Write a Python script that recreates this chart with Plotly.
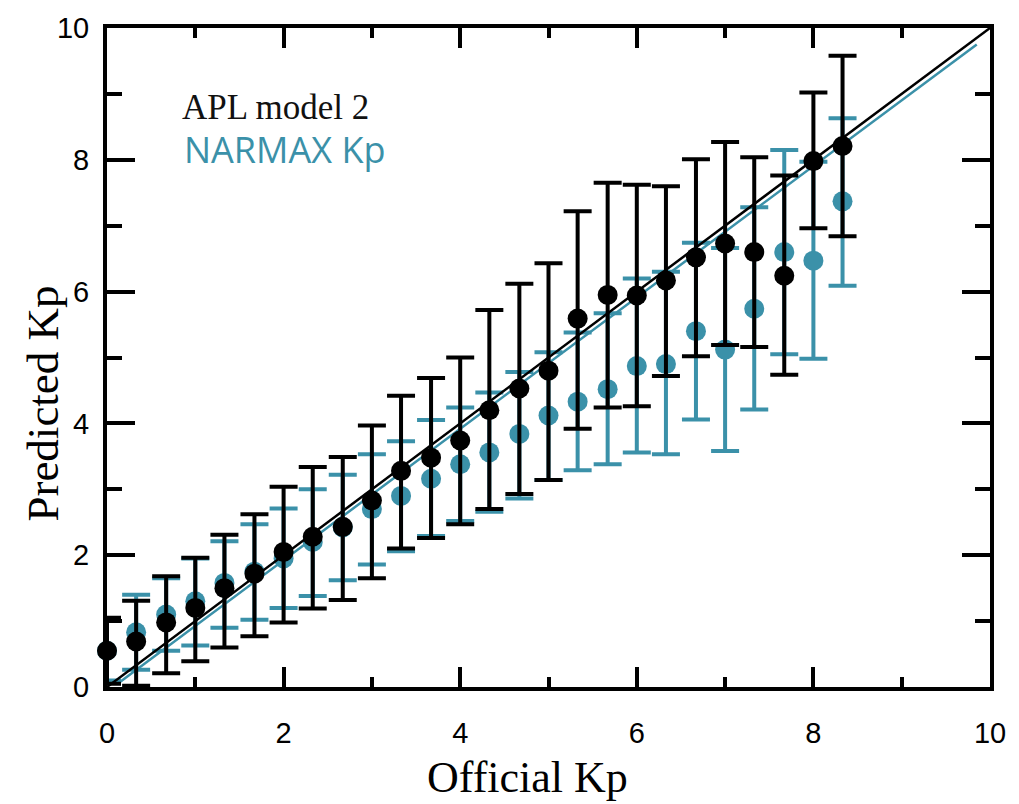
import plotly.graph_objects as go

# Official Kp bins (thirds)
kp = [0, 0.33, 0.67, 1.0, 1.33, 1.67, 2.0, 2.33, 2.67, 3.0, 3.33, 3.67, 4.0,
      4.33, 4.67, 5.0, 5.33, 5.67, 6.0, 6.33, 6.67, 7.0, 7.33, 7.67, 8.0, 8.33]

# APL model 2
apl_mean = [0.55, 0.69, 0.98, 1.20, 1.50, 1.72, 2.05, 2.28, 2.43, 2.83, 3.28, 3.48, 3.74,
            4.20, 4.53, 4.80, 5.59, 5.95, 5.94, 6.17, 6.52, 6.73, 6.60, 6.24, 7.98, 8.21]
apl_upper = [1.05, 1.31, 1.68, 1.96, 2.31, 2.62, 3.04, 3.34, 3.49, 3.97, 4.42, 4.69, 5.00,
             5.72, 6.12, 6.43, 7.22, 7.65, 7.62, 7.60, 8.01, 8.27, 8.04, 7.76, 9.02, 9.58]
apl_lower = [0.05, 0.02, 0.21, 0.39, 0.60, 0.77, 0.98, 1.19, 1.32, 1.65, 2.10, 2.26, 2.47,
             2.70, 2.93, 3.14, 3.92, 4.24, 4.26, 4.72, 5.02, 5.19, 5.16, 4.74, 6.96, 6.84]

# NARMAX Kp
nar_mean = [0.55, 0.83, 1.10, 1.30, 1.58, 1.75, 1.95, 2.20, 2.42, 2.70, 2.90, 3.16, 3.38,
            3.56, 3.84, 4.12, 4.33, 4.52, 4.87, 4.90, 5.40, 5.12, 5.74, 6.60, 6.47, 7.37]
nar_upper = [1.00, 1.40, 1.65, 1.95, 2.21, 2.47, 2.71, 3.00, 3.22, 3.53, 3.73, 4.05, 4.24,
             4.47, 4.78, 5.08, 5.38, 5.67, 6.20, 6.30, 6.74, 6.66, 7.28, 8.15, 7.97, 8.63]
nar_lower = [0.10, 0.26, 0.55, 0.63, 0.90, 1.02, 1.20, 1.38, 1.62, 1.86, 2.06, 2.29, 2.52,
             2.66, 2.86, 3.14, 3.29, 3.38, 3.56, 3.53, 4.06, 3.58, 4.21, 5.05, 4.98, 6.09]

# reference lines
ident_x = [0, 10]
ident_y = [0, 10]
nar_line_x = [0.12, 9.85]
nar_line_y = [0.05, 9.75]

TEAL = "#3B91A9"

fig = go.Figure()

fig.add_trace(go.Scatter(
    x=kp, y=nar_mean, mode="markers",
    marker=dict(color=TEAL, size=20),
    error_y=dict(type="data", symmetric=False,
                 array=[u - m for u, m in zip(nar_upper, nar_mean)],
                 arrayminus=[m - l for m, l in zip(nar_mean, nar_lower)],
                 color=TEAL, thickness=4, width=14),
    showlegend=False, cliponaxis=False))

fig.add_trace(go.Scatter(x=nar_line_x, y=nar_line_y, mode="lines",
                         line=dict(color=TEAL, width=2.5), showlegend=False))
fig.add_trace(go.Scatter(x=ident_x, y=ident_y, mode="lines",
                         line=dict(color="black", width=2.5), showlegend=False))

fig.add_trace(go.Scatter(
    x=kp, y=apl_mean, mode="markers",
    marker=dict(color="black", size=20),
    error_y=dict(type="data", symmetric=False,
                 array=[u - m for u, m in zip(apl_upper, apl_mean)],
                 arrayminus=[m - l for m, l in zip(apl_mean, apl_lower)],
                 color="black", thickness=4, width=14),
    showlegend=False, cliponaxis=False))

fig.add_annotation(x=0.83, y=8.8, xref="x", yref="y", text="APL model 2",
                   showarrow=False, xanchor="left", yanchor="middle",
                   font=dict(family="Liberation Serif", size=35, color="#111111"))
fig.add_annotation(x=0.85, y=8.15, xref="x", yref="y", text="NARMAX Kp",
                   showarrow=False, xanchor="left", yanchor="middle",
                   font=dict(family="Open Sans", size=36, color=TEAL))

# axis titles
fig.add_annotation(x=0.476, y=-0.137, xref="paper", yref="paper", text="Official Kp",
                   showarrow=False, xanchor="center", yanchor="middle",
                   font=dict(family="Liberation Serif", size=44, color="black"))
fig.add_annotation(x=-0.0725, y=0.43, xref="paper", yref="paper", text="Predicted Kp",
                   showarrow=False, xanchor="center", yanchor="middle", textangle=-90,
                   font=dict(family="Liberation Serif", size=45, color="black"))

axis_common = dict(
    range=[0, 10], dtick=2, tick0=0,
    showline=True, linecolor="black", linewidth=4, mirror="ticks",
    ticks="inside", tickcolor="black", tickwidth=4,
    showgrid=False, zeroline=False,
    tickfont=dict(family="Liberation Sans", size=29, color="black"),
)

fig.update_xaxes(**axis_common, ticklen=20,
                 minor=dict(dtick=1, ticks="inside", ticklen=10, tickwidth=4, tickcolor="black"),
                 ticklabelstandoff=17)
fig.update_yaxes(**axis_common, ticklen=28,
                 minor=dict(dtick=1, ticks="inside", ticklen=15, tickwidth=4, tickcolor="black"),
                 ticklabelstandoff=8)

fig.update_layout(
    width=1019, height=804,
    margin=dict(l=107, r=29, t=22, b=117),
    plot_bgcolor="white", paper_bgcolor="white",
)

fig.write_html("out.html")
